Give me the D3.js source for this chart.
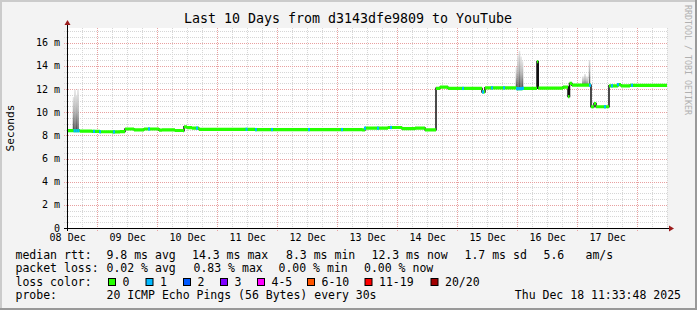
<!DOCTYPE html>
<html>
<head>
<meta charset="utf-8">
<script src="https://cdn.jsdelivr.net/npm/d3@7"></script>
<style>
  body { margin: 0; background: #f3f3f3; }
  text { font-family: "DejaVu Sans Mono", monospace; }
</style>
</head>
<body>
<svg></svg>
<script>
// median rtt, stepped: hours since the left edge -> ms
const medHours  = [0, 5.2, 10, 13.2, 18, 21.2, 23.2, 26.8, 30.8, 36.8,
                   38, 43.2, 46.4, 46.8, 48, 50, 52.8, 75.2, 118, 119.2,
                   128.4, 134, 139.2, 143.2, 147.6, 149.2, 152.4, 166, 167.2, 180,
                   182.4, 188, 188.5, 198.4, 200.4, 201.0, 202, 209.6, 210.8, 211.6,
                   216.8, 220.4, 221.6, 225.2, 240];
const medValues = [8.40, 8.37, 8.34, 8.31, 8.30, 8.33, 8.55, 8.48, 8.55, 8.45,
                   8.48, 8.42, 8.40, 8.74, 8.66, 8.62, 8.52, 8.50, 8.47, 8.62,
                   8.68, 8.58, 8.63, 8.48, 12.06, 12.16, 12.05, 11.75, 12.10, 12.03,
                   12.06, 14.36, 12.07, 12.17, 11.35, 12.48, 12.33, 10.47, 10.75, 10.47,
                   12.28, 12.38, 12.28, 12.32, 12.32];

// single pings lost (1/20) spots
const lossHours = [3.0, 3.8, 4.6, 10.8, 13.2, 18.8, 32.8, 52, 71.8, 75.6, 82, 96.8, 110,
                   119.2, 124.4, 129.6, 158.4, 166.4, 170, 174.8, 180, 180.8, 181.6, 182.4,
                   209.2, 215.2, 218, 220.4, 226];

// smoke columns: hours -> max ping (ms)
const smokeHours = [2.6, 3.2, 3.8, 4.4, 179.8, 180.4, 181, 181.6, 182.2, 206.4, 207.2, 208, 209];
const smokeTop   = [11.3, 11.95, 11.5, 12.0, 13.9, 14.9, 15.3, 14.8, 14.4, 13.1, 13.3, 13.1, 14.5];

const yTicks = [0, 2, 4, 6, 8, 10, 12, 14, 16];
const yTickLabels = ["0", "2 m", "4 m", "6 m", "8 m", "10 m", "12 m", "14 m", "16 m"];

const lossLabels = ["0", "1", "2", "3", "4-5", "6-10", "11-19", "20/20"];
const lossColors = ["#26ff00", "#00b8ff", "#0059ff", "#7e00ff", "#ff00ff", "#ff5500", "#ff0000", "#a10000"];

const W = 697, H = 310;
const plotLeft = 67, plotTop = 28, width = 600, height = 200;

const svg = d3.select("svg").attr("width", W).attr("height", H);

// frame
svg.append("rect").attr("width", W).attr("height", H).attr("fill", "#f3f3f3");
svg.append("rect").attr("width", W).attr("height", 2).attr("fill", "#cbcbcb");
svg.append("rect").attr("width", 2).attr("height", H).attr("fill", "#cbcbcb");
svg.append("rect").attr("y", H - 2).attr("width", W).attr("height", 2).attr("fill", "#999");
svg.append("rect").attr("x", W - 2).attr("width", 2).attr("height", H).attr("fill", "#999");

svg.append("rect")
    .attr("x", plotLeft).attr("y", plotTop)
    .attr("width", width).attr("height", height)
    .attr("fill", "#fff");

// scales
const start = new Date(2025, 11, 8, 12, 8);
const end = new Date(2025, 11, 18, 12, 8);
const at = h => new Date(start.getTime() + h * 36e5);

const x = d3.scaleTime().domain([start, end]).range([plotLeft, plotLeft + width]);
const y = d3.scaleLinear().domain([0, 17.27]).range([plotTop + height, plotTop]);

// grid
const grid = svg.append("g").attr("stroke-dasharray", "1,1").attr("shape-rendering", "crispEdges");

d3.range(0.5, 17.27, 0.5).filter(v => v % 2 !== 0).forEach(v => {
  grid.append("line")
      .attr("x1", plotLeft - 3).attr("x2", plotLeft + width)
      .attr("y1", Math.round(y(v)) + 0.5).attr("y2", Math.round(y(v)) + 0.5)
      .attr("stroke", "#d6d6d6");
});
d3.timeHour.every(6).range(start, end).filter(d => d.getHours() !== 0).forEach(d => {
  grid.append("line")
      .attr("x1", Math.round(x(d)) + 0.5).attr("x2", Math.round(x(d)) + 0.5)
      .attr("y1", plotTop).attr("y2", plotTop + height + 2)
      .attr("stroke", "#d6d6d6");
});
yTicks.filter(v => v > 0).forEach(v => {
  grid.append("line")
      .attr("x1", plotLeft - 3).attr("x2", plotLeft + width)
      .attr("y1", Math.round(y(v)) + 0.5).attr("y2", Math.round(y(v)) + 0.5)
      .attr("stroke", "#e8a0a0");
});
d3.timeDay.range(start, end).forEach(d => {
  grid.append("line")
      .attr("x1", Math.round(x(d)) + 0.5).attr("x2", Math.round(x(d)) + 0.5)
      .attr("y1", plotTop).attr("y2", plotTop + height + 3)
      .attr("stroke", "#e8a0a0");
});

// smoke
const defs = svg.append("defs");
const grad = defs.append("linearGradient").attr("id", "smoke")
    .attr("x1", 0).attr("y1", 0).attr("x2", 0).attr("y2", 1);
grad.append("stop").attr("offset", "0%").attr("stop-color", "#e4e4e4");
grad.append("stop").attr("offset", "50%").attr("stop-color", "#aaa");
grad.append("stop").attr("offset", "100%").attr("stop-color", "#4a4a4a");

const medianAt = h => medValues[Math.max(0, d3.bisectRight(medHours, h) - 1)];

svg.append("g").selectAll("rect")
  .data(smokeHours)
  .join("rect")
    .attr("x", h => x(at(h)) - 0.75)
    .attr("width", 1.5)
    .attr("y", (h, i) => y(smokeTop[i]))
    .attr("height", (h, i) => y(medianAt(h)) - y(smokeTop[i]))
    .attr("fill", "url(#smoke)");

// median
const med = medHours.map((h, i) => ({h: h, v: medValues[i]}));

svg.append("path")
    .datum(med)
    .attr("fill", "none")
    .attr("stroke", "#111")
    .attr("stroke-width", 1.5)
    .attr("d", d3.line().x(d => x(at(d.h))).y(d => y(d.v)).curve(d3.curveStepAfter));

svg.append("path")
    .datum(med)
    .attr("fill", lossColors[0])
    .attr("d", d3.area()
        .x(d => x(at(d.h)))
        .y0(d => y(d.v) + 1.6)
        .y1(d => y(d.v) - 1.6)
        .curve(d3.curveStepAfter));

svg.append("g").selectAll("rect")
  .data(lossHours)
  .join("rect")
    .attr("x", h => x(at(h)) - 1)
    .attr("width", 2)
    .attr("y", h => y(medianAt(h)) - 1.6)
    .attr("height", 3.2)
    .attr("fill", lossColors[1]);

// axes
svg.append("line")
    .attr("x1", plotLeft - 3).attr("x2", plotLeft + width + 2)
    .attr("y1", plotTop + height + 0.5).attr("y2", plotTop + height + 0.5)
    .attr("stroke", "#000");
svg.append("line")
    .attr("x1", plotLeft + 0.5).attr("x2", plotLeft + 0.5)
    .attr("y1", plotTop + height + 3).attr("y2", plotTop - 4)
    .attr("stroke", "#000");
svg.append("path")
    .attr("d", `M${plotLeft + width + 2},${plotTop + height - 2.5}L${plotLeft + width + 7},${plotTop + height + 0.5}L${plotLeft + width + 2},${plotTop + height + 3.5}Z`)
    .attr("fill", "#9b1c1c");
svg.append("path")
    .attr("d", `M${plotLeft - 2.5},${plotTop - 3}L${plotLeft + 0.5},${plotTop - 8}L${plotLeft + 3.5},${plotTop - 3}Z`)
    .attr("fill", "#9b1c1c");

svg.append("g").selectAll("text")
  .data(yTicks)
  .join("text")
    .attr("x", plotLeft - 7)
    .attr("y", d => y(d))
    .attr("dy", "0.35em")
    .attr("text-anchor", "end")
    .style("font-size", "10px")
    .text((d, i) => yTickLabels[i]);

// day labels sit at noon, the last one (too close to the edge) is dropped
const fmt = d3.timeFormat("%d %b");
const dayLabels = d3.timeDay.range(d3.timeDay.floor(start), end)
    .map(d => d3.timeHour.offset(d, 12))
    .filter(d => d < d3.timeHour.offset(end, -6));

svg.append("g").selectAll("text")
  .data(dayLabels)
  .join("text")
    .attr("x", d => x(d) + 1)
    .attr("y", 241)
    .attr("text-anchor", "middle")
    .style("font-size", "10px")
    .text(d => fmt(d));

// titles
svg.append("text")
    .attr("x", 348)
    .attr("y", 23.3)
    .attr("text-anchor", "middle")
    .style("font-size", "13.3px")
    .text("Last 10 Days from d3143dfe9809 to YouTube");

svg.append("text")
    .attr("transform", "translate(14,128) rotate(-90)")
    .attr("text-anchor", "middle")
    .style("font-size", "11.2px")
    .text("Seconds");

svg.append("text")
    .attr("transform", "translate(685,5) rotate(90)")
    .style("font-size", "8.3px")
    .attr("fill", "#b0b0b0")
    .text("RRDTOOL / TOBI OETIKER");

// legend
const legendRows = [
  [[15.5, "median rtt:"], [106.5, "9.8 ms avg"], [192, "14.3 ms max"], [286, "8.3 ms min"],
   [371.5, "12.3 ms now"], [464.5, "1.7 ms sd"], [543.5, "5.6"], [585.5, "am/s"]],
  [[15.5, "packet loss:"], [106.5, "0.02 % avg"], [193.5, "0.83 % max"], [278.5, "0.00 % min"],
   [364, "0.00 % now"]],
  [[15.5, "loss color:"]],
  [[15.5, "probe:"], [106.5, "20 ICMP Echo Pings (56 Bytes) every 30s"]]
];
const rowY = [258.5, 272, 285.7, 299.3];

legendRows.forEach((row, r) => {
  row.forEach(([lx, t]) => {
    svg.append("text").attr("x", lx).attr("y", rowY[r]).style("font-size", "11.5px").text(t);
  });
});

svg.append("text")
    .attr("x", 681).attr("y", rowY[3])
    .attr("text-anchor", "end")
    .style("font-size", "11.5px")
    .text("Thu Dec 18 11:33:48 2025");

const swatchX = [108.5, 146, 183.5, 220.5, 257.5, 307.5, 365, 431];
lossLabels.forEach((lab, i) => {
  svg.append("rect")
      .attr("x", swatchX[i]).attr("y", 278.5)
      .attr("width", 7).attr("height", 7)
      .attr("fill", lossColors[i])
      .attr("stroke", "#000");
  svg.append("text")
      .attr("x", swatchX[i] + 14).attr("y", rowY[2])
      .style("font-size", "11.5px")
      .text(lab);
});
</script>
</body>
</html>
